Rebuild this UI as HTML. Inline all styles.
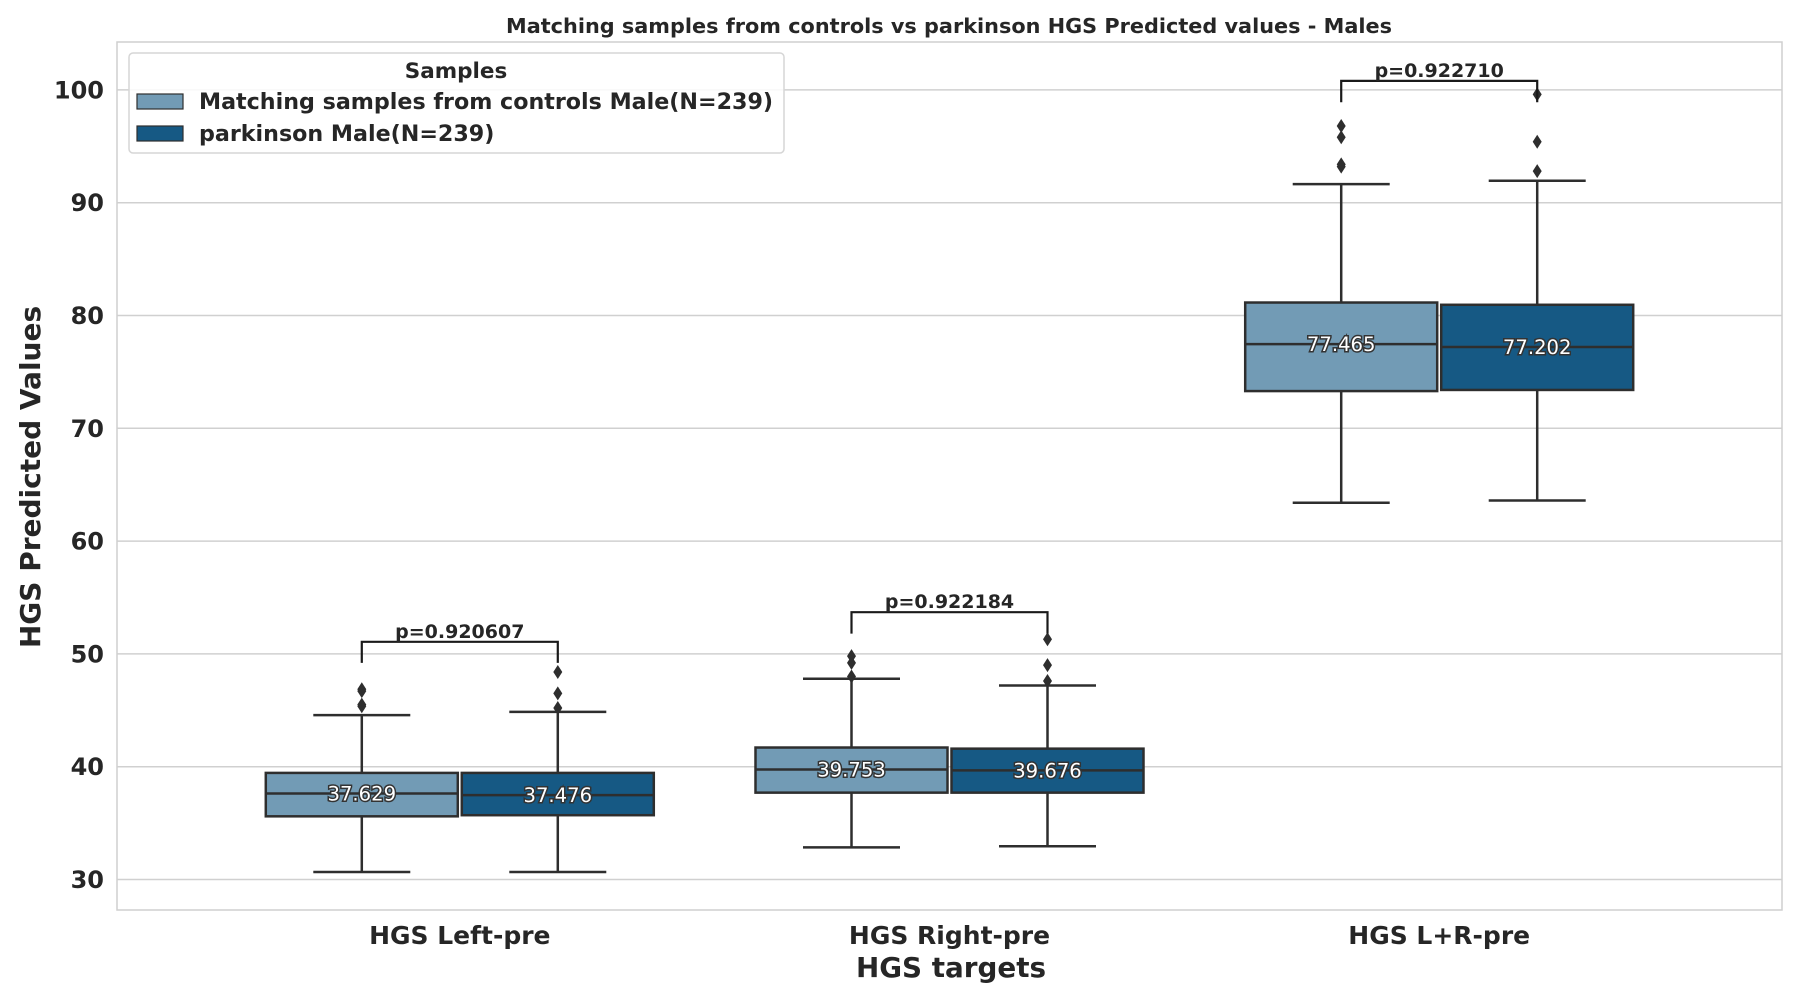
<!DOCTYPE html>
<html><head><meta charset="utf-8"><style>
html,body{margin:0;padding:0;background:#fff;}
svg text{font-family:"DejaVu Sans","Liberation Sans",sans-serif;font-weight:bold;fill:#262626;}
</style></head><body>
<svg id="chart" width="1800" height="1000" xmlns="http://www.w3.org/2000/svg"></svg>
<script>
const categories = ["HGS Left-pre", "HGS Right-pre", "HGS L+R-pre"];
const seriesNames = ["Matching samples from controls Male(N=239)", "parkinson Male(N=239)"];
// [whiskerLow, q1, median, q3, whiskerHigh] per category
const controlStats = [[30.67, 35.6, 37.629, 39.45, 44.57], [32.85, 37.7, 39.753, 41.7, 47.8], [63.4, 73.3, 77.465, 81.15, 91.65]];
const parkinsonStats = [[30.67, 35.7, 37.476, 39.45, 44.86], [32.95, 37.7, 39.676, 41.6, 47.2], [63.6, 73.4, 77.202, 80.95, 91.95]];
const controlOutliers = [[46.87, 46.7, 45.5, 45.36], [49.8, 49.2, 48.0], [96.8, 95.8, 93.4, 93.2]];
const parkinsonOutliers = [[48.4, 46.5, 45.2], [51.3, 49.0, 47.6], [99.6, 95.4, 92.8]];
const pLabels = ["p=0.920607", "p=0.922184", "p=0.922710"];
const bracketTop = [51.07, 53.7, 100.8];
const bracketLow = [49.2, 51.8, 98.9];
const yTicks = [30, 40, 50, 60, 70, 80, 90, 100];

const NS = "http://www.w3.org/2000/svg";
const svg = document.getElementById('chart');
const L = 117, R = 1782, T = 42, B = 910;
const xMin = -0.7, xMax = 2.7;
function xs(v){ return L + (v - xMin) / (xMax - xMin) * (R - L); }
function ys(v){ return 879.5 - (v - 30) * 11.28; }
function mk(tag, attrs, parent){
  const e = document.createElementNS(NS, tag);
  for (const k in attrs) e.setAttribute(k, attrs[k]);
  (parent || svg).appendChild(e);
  return e;
}
const colors = ["#729bb5", "#165984"];
const edge = "#2e2e2e";

yTicks.forEach(t => {
  const g = mk('line', {x1: L, x2: R, y1: ys(t), y2: ys(t), stroke: '#d0d0d0', 'stroke-width': 1.5});
  
  
  const tx = mk('text', {x: 104, y: ys(t) + 8.5, 'text-anchor': 'end', 'font-size': 24});
  tx.textContent = t;
  
  
});
const frame = mk('rect', {x: L, y: T, width: R - L, height: B - T, fill: 'none', stroke: '#cfcfcf', 'stroke-width': 1.5});



const boxW = 192, off = 98, capW = 97;
[controlStats, parkinsonStats].forEach((stats, si) => {
  const outs = si === 0 ? controlOutliers : parkinsonOutliers;
  stats.forEach((s, ci) => {
    const cx = xs(ci) + (si === 0 ? -off : off);
    const g = mk('g', {});
    
    
    mk('line', {x1: cx, x2: cx, y1: ys(s[0]), y2: ys(s[1]), stroke: edge, 'stroke-width': 2.5}, g);
    mk('line', {x1: cx, x2: cx, y1: ys(s[3]), y2: ys(s[4]), stroke: edge, 'stroke-width': 2.5}, g);
    mk('line', {x1: cx - capW/2, x2: cx + capW/2, y1: ys(s[0]), y2: ys(s[0]), stroke: edge, 'stroke-width': 2.5}, g);
    mk('line', {x1: cx - capW/2, x2: cx + capW/2, y1: ys(s[4]), y2: ys(s[4]), stroke: edge, 'stroke-width': 2.5}, g);
    mk('rect', {x: cx - boxW/2, y: ys(s[3]), width: boxW, height: ys(s[1]) - ys(s[3]), fill: colors[si], stroke: edge, 'stroke-width': 2.5}, g);
    mk('line', {x1: cx - boxW/2, x2: cx + boxW/2, y1: ys(s[2]), y2: ys(s[2]), stroke: edge, 'stroke-width': 2.5}, g);
    const lbl = mk('text', {x: cx, y: ys(s[2]) + 7, 'text-anchor': 'middle', 'font-size': 19.6, stroke: '#333', 'stroke-width': 3, 'paint-order': 'stroke', style: 'fill:#fff;font-weight:normal'}, g);
    lbl.textContent = s[2].toFixed(3);
    
    
    outs[ci].forEach(o => {
      const y = ys(o);
      const d = mk('polygon', {points: `${cx},${y-7} ${cx+4.5},${y} ${cx},${y+7} ${cx-4.5},${y}`, fill: '#2e2e2e'}, g);
      
      
    });
  });
});

categories.forEach((c, ci) => {
  const x1 = xs(ci) - off, x2 = xs(ci) + off;
  const g = mk('g', {});
  
  
  mk('polyline', {points: `${x1},${ys(bracketLow[ci])} ${x1},${ys(bracketTop[ci])} ${x2},${ys(bracketTop[ci])} ${x2},${ys(bracketLow[ci])}`, fill: 'none', stroke: '#1a1a1a', 'stroke-width': 2.2}, g);
  const t = mk('text', {x: xs(ci), y: ys(bracketTop[ci]) - 4, 'text-anchor': 'middle', 'font-size': 19}, g);
  t.textContent = pLabels[ci];
  const xl = mk('text', {x: xs(ci), y: 944, 'text-anchor': 'middle', 'font-size': 25});
  xl.textContent = c;
  
  
});
</script>
<svg width="1800" height="1000" style="position:absolute;left:0;top:0" xmlns="http://www.w3.org/2000/svg">
  <text x="949" y="33" text-anchor="middle" font-size="20.8">Matching samples from controls vs parkinson HGS Predicted values - Males</text>
  <text x="951" y="977" text-anchor="middle" font-size="27.8">HGS targets</text>
  <text x="0" y="0" transform="translate(40,477) rotate(-90)" text-anchor="middle" font-size="28">HGS Predicted Values</text>
  <g>
    <rect x="129" y="53" width="655" height="100" rx="4" fill="#fff" fill-opacity="0.85" stroke="#d6d6d6" stroke-width="1.5"/>
    <text x="456" y="78" text-anchor="middle" font-size="21.5">Samples</text>
    <rect x="137" y="94" width="46" height="15" fill="#729bb5" stroke="#2e2e2e" stroke-width="1.2"/>
    <text x="199" y="109" font-size="22.2">Matching samples from controls Male(N=239)</text>
    <rect x="137" y="126" width="46" height="15" fill="#165984" stroke="#2e2e2e" stroke-width="1.2"/>
    <text x="199" y="141" font-size="22.2">parkinson Male(N=239)</text>
  </g>
</svg>
</body></html>
